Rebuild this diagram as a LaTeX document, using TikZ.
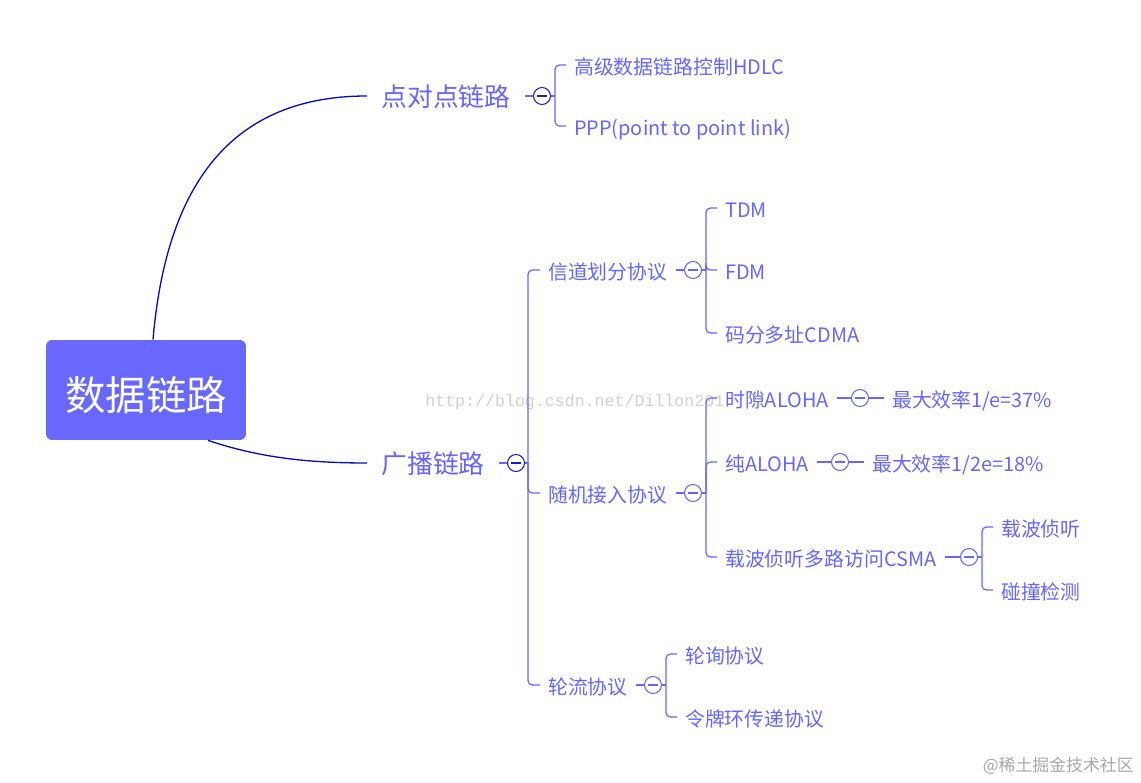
\documentclass[tikz,border=0pt]{standalone}
\usepackage{fontspec}
\setmainfont{Noto Sans CJK SC}
\newfontfamily\wmfont{Liberation Mono}
\usetikzlibrary{calc}
\definecolor{mmink}{RGB}{102,102,255}
\definecolor{mmroot}{RGB}{104,104,255}
\definecolor{mmtrunk}{RGB}{10,10,190}
\definecolor{mmfold}{RGB}{30,30,170}
\definecolor{mmmark}{RGB}{208,208,208}
\definecolor{mmcredit}{RGB}{168,168,168}

\begin{document}
\begin{tikzpicture}[
  x=0.02cm, y=-0.02cm,
  root/.style={fill=mmroot, text=white, rounded corners=3.5pt, minimum width=4cm,
    minimum height=2cm, inner sep=0pt, font=\fontsize{23}{26}\selectfont,
    text height=23pt, text depth=0pt},
  topic/.style={anchor=west, text=mmink, inner xsep=8pt, inner ysep=0pt,
    font=\fontsize{14.7}{17}\selectfont, text height=13.6pt, text depth=1.1pt},
  sub/.style={anchor=west, text=mmink, inner xsep=4.5pt, inner ysep=0pt,
    font=\fontsize{11.3}{13}\selectfont, text height=10.9pt, text depth=0.4pt},
  fold/.style={circle, draw=#1, fill=white, line width=0.6pt, minimum size=0.34cm,
    inner sep=0pt,
    path picture={\draw[#1, line width=0.6pt]
      ([xshift=-2.6pt]path picture bounding box.center)
      -- ([xshift=2.6pt]path picture bounding box.center);}},
  fold/.default=mmink,
  trunk/.style={mmtrunk, line width=0.75pt},
  br/.style={mmink, line width=0.7pt},
  brc/.style={br, rounded corners=2.5pt}
]
\fill[white] (0,0) rectangle (1141,783);
\useasboundingbox (0,0) rectangle (1141,783);

% watermarks
\node[anchor=west, inner sep=0pt, text=mmmark, font=\wmfont\fontsize{9.45}{11}\selectfont]
  (wm) at (425,402) {http://blog.csdn.net/Dillon201};
\node[anchor=east, inner sep=0pt, text=mmcredit, font=\fontsize{9.6}{11}\selectfont]
  (credit) at (1134,766) {@稀土掘金技术社区};

\node[root] (root) at (146,390) {数据链路};

% point to point
\node[topic] (p1) at (367,96) {点对点链路};
\node[fold=mmfold] (fp1) at (542,96) {};
\node[sub] (p1a) at (566,65) {高级数据链路控制HDLC};
\node[sub] (p1b) at (566,126) {PPP(point to point link)};

% broadcast
\node[topic] (p2) at (367,463) {广播链路};
\node[fold=mmfold] (fp2) at (516,463) {};
\node[sub] (s1) at (540,270) {信道划分协议};
\node[fold] (fs1) at (693,270) {};
\node[sub] (t1) at (717,208) {TDM};
\node[sub] (t2) at (717,270) {FDM};
\node[sub] (t3) at (717,333) {码分多址CDMA};

\node[sub] (s2) at (540,493) {随机接入协议};
\node[fold] (fs2) at (693,493) {};
\node[sub] (r1) at (717,398) {时隙ALOHA};
\node[fold] (fr1) at (860,398) {};
\node[sub] (e1) at (884,398) {最大效率1/e=37\%};
\node[sub] (r2) at (717,462) {纯ALOHA};
\node[fold] (fr2) at (840,462) {};
\node[sub] (e2) at (864,462) {最大效率1/2e=18\%};
\node[sub] (r3) at (717,557) {载波侦听多路访问CSMA};
\node[fold] (fr3) at (969,557) {};
\node[sub] (c1) at (993,527) {载波侦听};
\node[sub] (c2) at (993,590) {碰撞检测};

\node[sub] (s3) at (540,685) {轮流协议};
\node[fold] (fs3) at (653,685) {};
\node[sub] (l1) at (677,654) {轮询协议};
\node[sub] (l2) at (677,717) {令牌环传递协议};

% trunks
\draw[trunk] ($(root.north)+(7,0)$) .. controls (165,200) and (220,96) .. (p1.west);
\draw[trunk] ($(root.south)+(62,0)$) .. controls (260,458) and (310,463) .. (p2.west);

% brackets
\draw[br] (p1.east) -- (fp1.west);
\draw[br] (fp1.east) -- ++(4,0) coordinate (j1);
\foreach \c in {p1a,p1b} \draw[brc] (j1) |- (\c.west);

\draw[br] (p2.east) -- (fp2.west);
\draw[br] (fp2.east) -- ++(3,0) coordinate (j2);
\foreach \c in {s1,s2,s3} \draw[brc] (j2) |- (\c.west);

\draw[br] (s1.east) -- (fs1.west);
\draw[br] (fs1.east) -- ++(4,0) coordinate (j3);
\foreach \c in {t1,t2,t3} \draw[brc] (j3) |- (\c.west);

\draw[br] (s2.east) -- (fs2.west);
\draw[br] (fs2.east) -- ++(4,0) coordinate (j4);
\foreach \c in {r1,r2,r3} \draw[brc] (j4) |- (\c.west);

\draw[br] (r1.east) -- (fr1.west);
\draw[br] (fr1.east) -- (e1.west);
\draw[br] (r2.east) -- (fr2.west);
\draw[br] (fr2.east) -- (e2.west);

\draw[br] (r3.east) -- (fr3.west);
\draw[br] (fr3.east) -- ++(4,0) coordinate (j5);
\foreach \c in {c1,c2} \draw[brc] (j5) |- (\c.west);

\draw[br] (s3.east) -- (fs3.west);
\draw[br] (fs3.east) -- ++(4,0) coordinate (j6);
\foreach \c in {l1,l2} \draw[brc] (j6) |- (\c.west);
\end{tikzpicture}
\end{document}
